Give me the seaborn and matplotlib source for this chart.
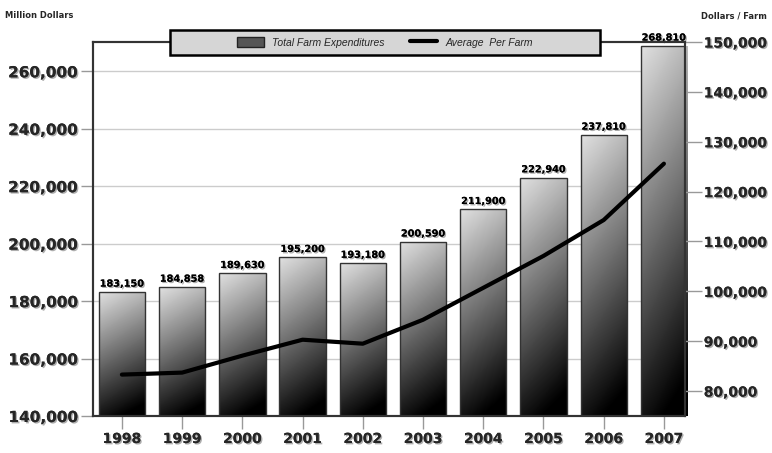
import numpy as np
import pandas as pd
import matplotlib
matplotlib.use("Agg")
import matplotlib.pyplot as plt
import matplotlib.patheffects as pe
from matplotlib.patches import Rectangle, Patch
from matplotlib.lines import Line2D
import seaborn as sns

years = ["1998", "1999", "2000", "2001", "2002", "2003", "2004", "2005", "2006", "2007"]
total_exp = [183150, 184858, 189630, 195200, 193180, 200590, 211900, 222940, 237810, 268810]
bar_labels = ["183,150", "184,858", "189,630", "195,200", "193,180", "200,590",
              "211,900", "222,940", "237,810", "268,810"]
avg_per_farm = [83300, 83700, 87100, 90300, 89500, 94300, 100700, 107100, 114300, 125600]
left_ticks = [140000, 160000, 180000, 200000, 220000, 240000, 260000]
right_ticks = [80000, 90000, 100000, 110000, 120000, 130000, 140000, 150000]

sns.set_theme(style="white")
plt.rcParams["font.family"] = ["DejaVu Sans"]

W, H = 772, 453
fig = plt.figure(figsize=(W / 100, H / 100), dpi=100)
fig.patch.set_facecolor("white")
ax = fig.add_axes([93 / W, 1 - 416 / H, (685 - 93) / W, (416 - 42) / H])

df = pd.DataFrame({"year": years, "total": total_exp})
sns.barplot(data=df, x="year", y="total", ax=ax, color="#888888", width=0.77,
            edgecolor="#333333", linewidth=1.0, zorder=2)

YMIN, YMAX = 140000, 270200
ax.set_xlim(-0.48, 9.35)
ax.set_ylim(YMIN, YMAX)

# gradient fill for bars (light at top-left, black at bottom-right)
ny, nx = 100, 40
yy, xx = np.mgrid[0:1:ny * 1j, 0:1:nx * 1j]
grad = 0.88 - 0.80 * yy - 0.16 * xx
grad = np.clip(grad, 0, 1)
for p in list(ax.patches):
    x0 = p.get_x()
    w = p.get_width()
    top = p.get_y() + p.get_height()
    im = ax.imshow(grad, extent=[x0, x0 + w, YMIN, top], cmap="gray", vmin=0, vmax=1,
                   aspect="auto", zorder=2.1, origin="upper", interpolation="bilinear")
    clip = Rectangle((x0, YMIN), w, top - YMIN, transform=ax.transData)
    im.set_clip_path(clip)
    p.set_facecolor("none")
    p.set_zorder(2.2)
ax.set_xlim(-0.48, 9.35)
ax.set_ylim(YMIN, YMAX)

shadow = [pe.withSimplePatchShadow(offset=(1, -1), shadow_rgbFace="#777777", alpha=0.6), pe.Normal()]

for i, (v, lab) in enumerate(zip(total_exp, bar_labels)):
    ax.text(i, v + 1200, lab, ha="center", va="bottom", fontsize=7, fontweight="bold",
            color="black", zorder=5, path_effects=shadow)

ax.set_yticks(left_ticks)
ax.set_yticklabels([f"{t:,}" for t in left_ticks], fontsize=11, fontweight="bold")
for t in ax.get_yticklabels():
    t.set_path_effects(shadow)
ax.yaxis.grid(True, color="#cccccc", linewidth=1.0, zorder=0)
ax.set_axisbelow(True)
ax.tick_params(axis="y", which="major", length=9, width=1, color="#999999", left=True, pad=2)
ax.tick_params(axis="x", which="major", length=9.5, width=1, color="#999999", bottom=True, pad=2,
               labelsize=10)
for t in ax.get_xticklabels():
    t.set_fontweight("bold")
    t.set_path_effects(shadow)
ax.set_xlabel("")
ax.set_ylabel("")
for s in ax.spines.values():
    s.set_color("#333333")
    s.set_linewidth(1.5)
    s.set_visible(True)

ax2 = ax.twinx()
sns.lineplot(x=np.arange(len(years)), y=avg_per_farm, ax=ax2, color="black", linewidth=3,
             zorder=6)
ax2.set_ylim(75000, 150000)
ax2.set_yticks(right_ticks)
ax2.set_yticklabels([f"{t:,}" for t in right_ticks], fontsize=10, fontweight="bold")
for t in ax2.get_yticklabels():
    t.set_path_effects(shadow)
ax2.tick_params(axis="y", length=12, width=1, color="#999999", right=True, pad=1.5)
ax2.grid(False)
for s in ax2.spines.values():
    s.set_color("#333333")
    s.set_linewidth(1.5)
ax2.set_xlim(-0.48, 9.35)

fig.text(5 / W, 1 - 16 / H, "Million Dollars", fontsize=6, fontweight="bold", ha="left", va="center")
fig.text(767 / W, 1 - 16 / H, "Dollars / Farm", fontsize=6, fontweight="bold", ha="right", va="center")

# legend box
fig.patches.append(Rectangle((170 / W, 1 - 55 / H), 430 / W, 25 / H, transform=fig.transFigure,
                             facecolor="#d6d6d6", edgecolor="black", linewidth=1.8, zorder=3))
handles = [Patch(facecolor="#555555", edgecolor="#222222"),
           Line2D([0], [0], color="black", linewidth=3)]
leg = fig.legend(handles, ["Total Farm Expenditures", "Average  Per Farm"], loc="center",
                 bbox_to_anchor=(385 / W, 1 - 42.5 / H), ncol=2, frameon=False,
                 prop={"family": "Liberation Sans", "style": "italic", "size": 7.5},
                 handlelength=2.6, handleheight=1.1, columnspacing=2.4, handletextpad=0.8)
leg.set_zorder(6)

fig.savefig("out.png", dpi=100)
